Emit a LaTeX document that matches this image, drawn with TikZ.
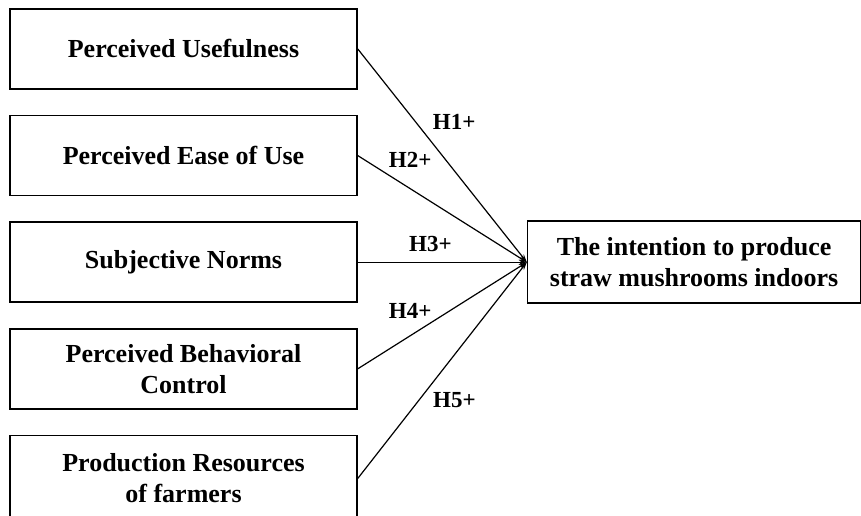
\documentclass[tikz,border=0pt]{standalone}
\usepackage{fontspec}
\setmainfont{Liberation Serif}
\usetikzlibrary{positioning}
\usetikzlibrary{arrows.meta}
\tikzstyle{factor} = [rectangle, draw=black, line width=1.6pt, minimum width=347pt, minimum height=80pt, align=center, font=\fontsize{26}{31}\selectfont\bfseries, node distance=25pt]
\tikzstyle{hyp} = [draw=black, line width=1.2pt, -{Stealth[length=8pt,width=5pt]}]
\tikzstyle{hlab} = [inner sep=0pt, font=\fontsize{23}{23}\selectfont\bfseries]

\begin{document}
\begin{tikzpicture}[x=1pt, y=1pt]
\useasboundingbox (0,0) rectangle (861,-516);

% Define nodes
\node[factor]                       (pu)   at (183.5,-49) {Perceived Usefulness};
\node[factor, below = of pu]        (peou) {Perceived Ease of Use};
\node[factor, below = of peou]      (sn)   {Subjective Norms};
\node[factor, below = of sn]        (pbc)  {Perceived Behavioral\\Control};
\node[factor, below = of pbc, minimum height=86pt] (pr) {Production Resources\\of farmers};
\node[factor, minimum width=333pt, minimum height=82pt, right = 169pt of sn] (int) {The intention to produce\\straw mushrooms indoors};

% Edges
\draw[hyp] (pu.east)   -- node[hlab, pos=0.34, right=17pt] {H1+} (int.west);
\draw[hyp] (peou.east) -- node[hlab, pos=0.31, above=21pt] {H2+} (int.west);
\draw[hyp] (sn.east)   -- node[hlab, pos=0.43, above=10pt] {H3+} (int.west);
\draw[hyp] (pbc.east)  -- node[hlab, pos=0.31, above=17pt] {H4+} (int.west);
\draw[hyp] (pr.east)   -- node[hlab, pos=0.36, right=14pt] {H5+} (int.west);
\end{tikzpicture}
\end{document}
